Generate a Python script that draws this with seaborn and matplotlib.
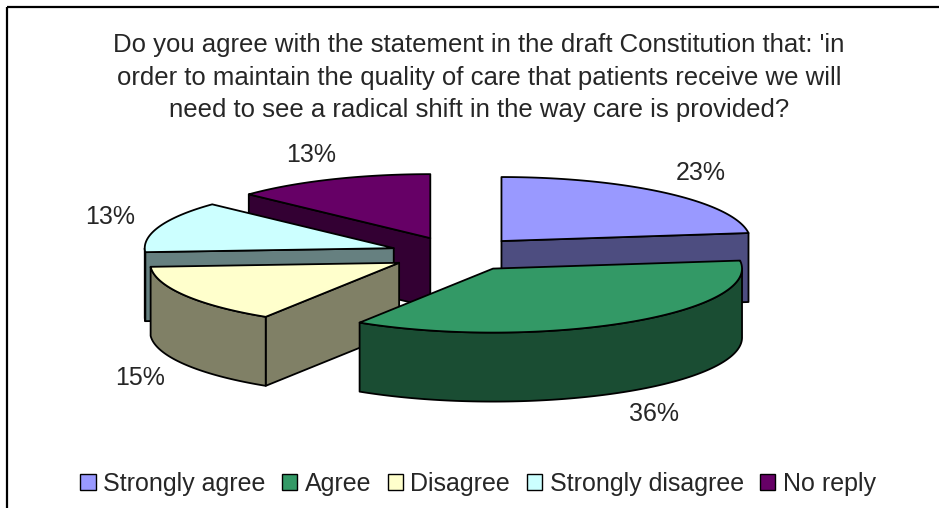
import numpy as np
import matplotlib
matplotlib.use("Agg")
import matplotlib.pyplot as plt
from matplotlib.patches import Polygon, Patch
from matplotlib.lines import Line2D
import seaborn as sns

# Survey answers and their shares (percent)
categories = ["Strongly agree", "Agree", "Disagree", "Strongly disagree", "No reply"]
shares = [23, 36, 15, 13, 13]
pct_labels = ["23%", "36%", "15%", "13%", "13%"]
top_colors = ["#9999FF", "#339966", "#FFFFCC", "#CCFFFF", "#660066"]
title_lines = [
    "Do you agree with the statement in the draft Constitution that: 'in",
    "order to maintain the quality of care that patients receive we will",
    "need to see a radical shift in the way care is provided?",
]

sns.set_theme(style="white")
plt.rcParams["font.family"] = ["Liberation Sans", "DejaVu Sans"]

W, H = 939, 508
fig = plt.figure(figsize=(W / 100, H / 100), dpi=100)
fig.patch.set_facecolor("white")
ax = fig.add_axes([0, 0, 1, 1])
ax.set_xlim(0, W)
ax.set_ylim(H, 0)
ax.axis("off")

# Pie geometry in canvas pixels (y grows downward)
cx, cy = 457, 254
rx, ry = 249, 64
depth = 69
explode = 0.27
edge_kw = dict(edgecolor="black", linewidth=1.3, joinstyle="round")


def rim(tip, theta_deg, drop=0.0):
    t = np.radians(theta_deg)
    return np.column_stack([tip[0] + rx * np.cos(t), tip[1] - ry * np.sin(t) + drop])


def darker(hex_color, f=0.5):
    rgb = np.array(matplotlib.colors.to_rgb(hex_color))
    return tuple(rgb * f)


fracs = np.array(shares, dtype=float) / np.sum(shares)
starts = 90 - 360 * np.concatenate([[0], np.cumsum(fracs)[:-1]])
ends = starts - 360 * fracs
mids = (starts + ends) / 2

# back slices first, front slices last
order = np.argsort(-np.sin(np.radians(mids)))

for rank, i in enumerate(order):
    t1, t2, m = starts[i], ends[i], mids[i]
    mr = np.radians(m)
    tip = np.array([cx + explode * rx * np.cos(mr), cy - explode * ry * np.sin(mr)])
    top_c = top_colors[i]
    side_c = darker(top_c)
    z = 10 + rank * 5

    # radial cut walls facing the viewer
    for theta, normal in ((t1, t1 + 90), (t2, t2 - 90)):
        if np.sin(np.radians(normal)) < -1e-6:
            r0 = rim(tip, [theta])[0]
            pts = [tip, r0, r0 + [0, depth], tip + [0, depth]]
            ax.add_patch(Polygon(pts, closed=True, facecolor=side_c, zorder=z, **edge_kw))

    # curved outer wall: only the front half (angles between -180 and 0)
    a, b = max(t2, -180), min(t1, 0)
    if b > a:
        th = np.linspace(b, a, 120)
        upper = rim(tip, th)
        lower = rim(tip, th[::-1], drop=depth)
        ax.add_patch(Polygon(np.vstack([upper, lower]), closed=True,
                             facecolor=side_c, zorder=z + 1, **edge_kw))

    # top face
    th = np.linspace(t1, t2, 200)
    pts = np.vstack([[tip], rim(tip, th)])
    ax.add_patch(Polygon(pts, closed=True, facecolor=top_c, zorder=z + 2, **edge_kw))

    # percentage label just outside the rim, along the slice's middle direction
    front = np.sin(mr) < 0
    anchor = rim(tip, [m], drop=depth if front else 0)[0]
    lx = anchor[0] + 52 * np.cos(mr)
    ly = anchor[1] - 27 * np.sin(mr)
    ax.text(lx, ly, pct_labels[i], ha="center", va="center", fontsize=18, zorder=50)

# title
for k, line in enumerate(title_lines):
    ax.text(479, 45 + 32.5 * k, line, ha="center", va="center", fontsize=18.5)

# chart frame (top and left edges)
ax.add_line(Line2D([6.5, W + 5], [6.5, 6.5], color="black", lw=1.6, solid_capstyle="butt"))
ax.add_line(Line2D([6.5, 6.5], [6.5, H + 5], color="black", lw=1.6, solid_capstyle="butt"))

handles = [Patch(facecolor=c, edgecolor="black", linewidth=1.0) for c in top_colors]
fig.legend(handles, categories, loc="center", bbox_to_anchor=(478 / W, 1 - 484 / H),
           ncol=5, frameon=False, fontsize=18, handlelength=0.62, handleheight=0.62,
           handletextpad=0.3, columnspacing=0.65, borderpad=0)

fig.savefig("out.png", dpi=100, facecolor="white")
